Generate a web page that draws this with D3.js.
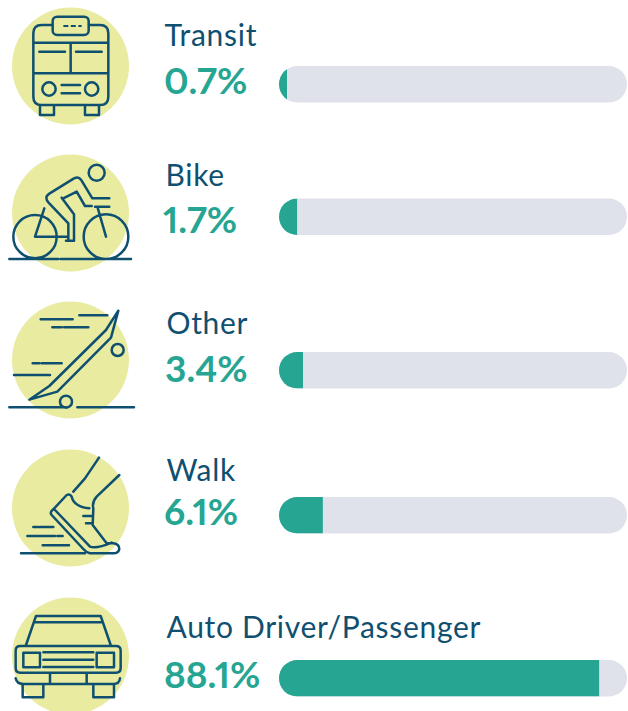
<!DOCTYPE html>
<html><head><meta charset="utf-8">
<script src="https://cdn.jsdelivr.net/npm/d3@7/dist/d3.min.js"></script>
<style>html,body{margin:0;padding:0;background:#fff}svg{display:block}</style>
</head><body><svg id="c" width="628" height="711"></svg>
<script>
const categories = ["Transit","Bike","Other","Walk","Auto Driver/Passenger"];
const valueLabels = [0.7,1.7,3.4,6.1,88.1];
// Length of each filled bar as drawn in the picture, % of the track (the source art is not to scale)
const drawnLengths = [2.3,5.2,6.9,12.6,92];

const layoutRows = [
  {circleY:66, barY:66, labelX:164.5,labelY:45.5, valueX:164,valueY:94, iconY:0},
  {circleY:213,barY:198.5,labelX:165.5,labelY:186,valueX:163,valueY:233,iconY:145},
  {circleY:360,barY:352,labelX:166.5,labelY:334,valueX:165,valueY:382,iconY:295},
  {circleY:508,barY:497,labelX:166.5,labelY:481,valueX:164,valueY:525,iconY:445},
  {circleY:656,barY:660,labelX:166.5,labelY:638,valueX:164,valueY:688,iconY:590}
];
const INK="#0f5070", TEAL="#26a593", TRACK="#dfe2ea", YEL="#e9eba1";

// icon outlines, drawn at 3x and scaled down
const icons = [
 `M125,75H300Q325,75 325,100V290Q325,315 300,315H125Q100,315 100,290V100Q100,75 125,75Z
  M100,128H325M100,220H325M212,128V220M118,155H195M228,155H305
  M185,255H240M185,280H240M120,315V345H162V315M255,315V345H297V315
  M127,267a20,20 0 1,0 40,0a20,20 0 1,0 -40,0M255,267a20,20 0 1,0 40,0a20,20 0 1,0 -40,0`,
 `M266,83a24,24 0 1,0 48,0a24,24 0 1,0 -48,0
  M328,160H277L243,104Q236,94 222,100L148,146Q132,156 145,172L205,235V287H198
  M185,158L222,208V287H198M190,160L230,140L255,183H275
  M133,190L105,275H205M285,185H328M292,185L318,275
  M40,275a65,65 0 1,0 130,0a65,65 0 1,0 -130,0M251,275a67,67 0 1,0 134,0a67,67 0 1,0 -134,0
  M28,342H175M182,342H393`,
 `M355,47L318,105L148,273L88,314L172,290L333,128Z
  M335,165a18,18 0 1,0 36,0a18,18 0 1,0 -36,0M180,320a18,18 0 1,0 36,0a18,18 0 1,0 -36,0
  M28,337H198M232,337H402M122,73H218M238,61H322M157,97H185M192,97H265M98,205H118M125,205H185M42,240H150`,
 `M297,38L255,100L220,140M358,90L290,155Q275,172 280,190L278,240L320,295H340Q358,298 358,312Q355,325 340,325H270Q258,322 250,312L155,210Q148,202 160,193L200,150Q210,145 215,155Q222,185 268,190
  M165,195L270,305Q290,312 335,293M250,213H278M258,235H278
  M100,246H115M120,246H160M82,273H165M172,273H188M128,301H207M63,325H255`,
 `M78,165L108,78H302L332,165M102,97H308
  M61,168H348Q362,168 362,182V234Q362,248 348,248H61Q47,248 47,234V182Q47,168 61,168Z
  M70,188H120V232H70ZM290,188H342V232H290ZM130,187H280M130,209H280M130,231H280
  M47,265Q50,282 70,282H340Q358,282 360,265M150,248V282M260,248V282
  M68,282V322H130V282M280,282V322H342V282`
];

const barX0=279, barX1=627, barH=36.5;
const x = d3.scaleLinear().domain([0,100]).range([0,barX1-barX0]);

const svg = d3.select("#c");
const defs = svg.append("defs");
const rows = svg.selectAll("g.row").data(categories).join("g").attr("class","row");

rows.append("circle").attr("cx",70.5).attr("cy",(d,i)=>layoutRows[i].circleY).attr("r",58.5).attr("fill",YEL);
rows.append("path").attr("d",(d,i)=>icons[i])
  .attr("transform",(d,i)=>`translate(0,${layoutRows[i].iconY}) scale(${1/3})`)
  .attr("fill","none").attr("stroke",INK).attr("stroke-width",7.5)
  .attr("stroke-linecap","round").attr("stroke-linejoin","round");
// bus sign sits over the body
svg.select("g.row").append("rect").attr("x",158/3).attr("y",50/3).attr("width",108/3).attr("height",55/3).attr("rx",4.5)
  .attr("fill",YEL).attr("stroke",INK).attr("stroke-width",2.5);
svg.select("g.row").append("path").attr("d",`M${190/3},26H${245/3}`).attr("stroke",INK).attr("stroke-width",2).attr("stroke-dasharray","5 2.5");

rows.append("text").attr("x",(d,i)=>layoutRows[i].labelX).attr("y",(d,i)=>layoutRows[i].labelY)
  .text(d=>d).attr("font-family","Lato").attr("font-size",30).attr("letter-spacing",0.7).attr("fill",INK);
rows.append("text").attr("x",(d,i)=>layoutRows[i].valueX).attr("y",(d,i)=>layoutRows[i].valueY)
  .text((d,i)=>valueLabels[i].toFixed(1)+"%").attr("font-family","Lato").attr("font-weight",700).attr("font-size",37)
  .style("font-feature-settings",'"pnum" 1').style("font-variant-numeric","proportional-nums").attr("fill",TEAL);

rows.each(function(d,i){
  defs.append("clipPath").attr("id","clip"+i).append("rect")
    .attr("x",barX0).attr("y",layoutRows[i].barY).attr("width",barX1-barX0).attr("height",barH).attr("rx",barH/2);
});
rows.append("rect").attr("x",barX0).attr("y",(d,i)=>layoutRows[i].barY).attr("width",barX1-barX0).attr("height",barH).attr("rx",barH/2).attr("fill",TRACK);
rows.append("rect").attr("x",barX0).attr("y",(d,i)=>layoutRows[i].barY).attr("width",(d,i)=>x(drawnLengths[i])).attr("height",barH)
  .attr("fill",TEAL).attr("clip-path",(d,i)=>`url(#clip${i})`);
</script></body></html>
